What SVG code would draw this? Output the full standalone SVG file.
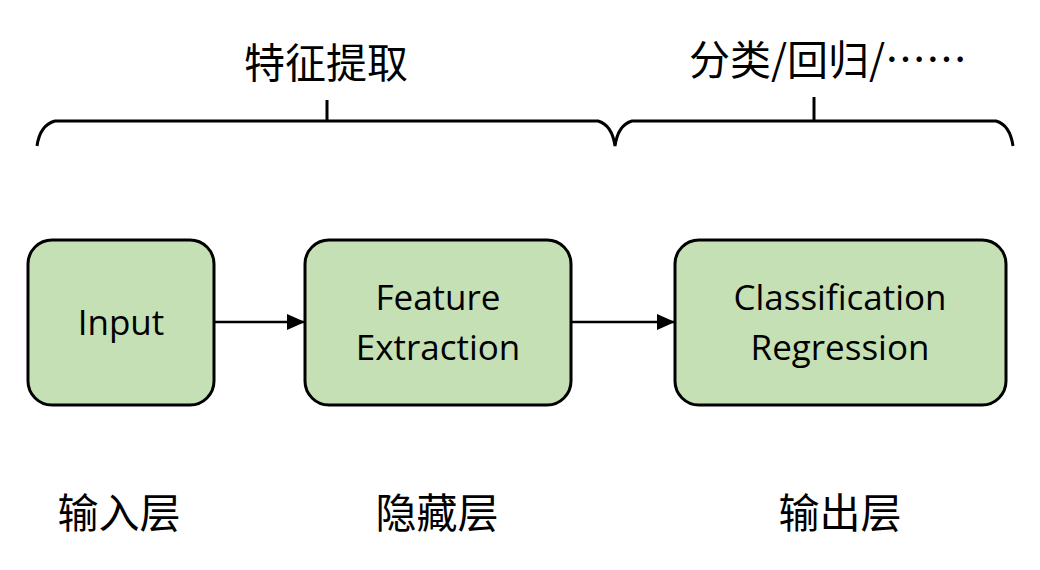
<svg xmlns="http://www.w3.org/2000/svg" width="1040" height="570" viewBox="0 0 1040 570">
<defs>
<marker id="arr" markerWidth="18" markerHeight="16" refX="18" refY="8" orient="auto" markerUnits="userSpaceOnUse">
<path d="M0,0 L18,8 L0,16 z" fill="#000"/>
</marker>
</defs>
<style>
.box{fill:#C5E0B4;stroke:#000;stroke-width:3}
.en{font-family:"Open Sans","Liberation Sans",sans-serif;font-size:35px;fill:#000;text-anchor:middle}
.cn{font-family:"Noto Sans CJK SC",sans-serif;font-size:41px;fill:#000;text-anchor:middle}
.br{fill:none;stroke:#000;stroke-width:3}
.cx{stroke:#000;stroke-width:2.5;fill:none}
</style>
<rect width="1040" height="570" fill="#fff"/>
<g id="braces">
<path class="br" d="M37,146 Q40,125 55,121 L598,121 Q612,125 615,146 Q618,125 632,121 L996,121 Q1010,125 1013,146"/>
<line class="br" x1="327" y1="100" x2="327" y2="121"/>
<line class="br" x1="814" y1="97" x2="814" y2="121"/>
</g>
<g id="top-labels">
<text class="cn" x="326" y="78">特征提取</text>
<text class="cn" x="828" y="75" font-size="40">分类/回归/……</text>
</g>
<g id="connectors">
<line class="cx" x1="214" y1="322" x2="305" y2="322" marker-end="url(#arr)"/>
<line class="cx" x1="571" y1="322" x2="675" y2="322" marker-end="url(#arr)"/>
</g>
<g id="node-input">
<rect class="box" x="28" y="240" width="186" height="165" rx="24"/>
<text class="en" x="121" y="335">Input</text>
</g>
<g id="node-feature">
<rect class="box" x="305" y="240" width="266" height="165" rx="24"/>
<text class="en" x="438" y="310">Feature</text>
<text class="en" x="438" y="360">Extraction</text>
</g>
<g id="node-class">
<rect class="box" x="675" y="240" width="331" height="165" rx="24"/>
<text class="en" x="840" y="310">Classification</text>
<text class="en" x="840" y="360">Regression</text>
</g>
<g id="bottom-labels">
<text class="cn" x="119" y="528" font-size="42">输入层</text>
<text class="cn" x="437" y="528" font-size="42">隐藏层</text>
<text class="cn" x="840" y="528" font-size="42">输出层</text>
</g>
</svg>
